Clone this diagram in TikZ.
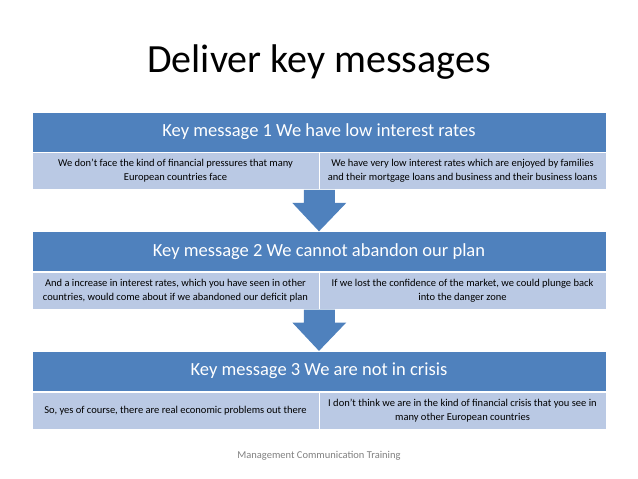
\documentclass[tikz,border=0pt]{standalone}
\usepackage{fontspec}
\setmainfont{Carlito}
\usepackage{tikz}
\usetikzlibrary{positioning}
\definecolor{keyblue}{RGB}{79,129,189}
\definecolor{keylight}{RGB}{186,201,228}
\definecolor{footgray}{RGB}{128,128,128}
\tikzset{
  keyhead/.style={fill=keyblue, draw=white, line width=0.6pt, text=white, minimum width=574pt, minimum height=40pt, inner sep=0pt, font=\fontsize{18.5}{22}\selectfont},
  keycell/.style={fill=keylight, draw=white, line width=0.6pt, text=black, minimum width=287pt, minimum height=37pt, inner sep=0pt, align=center, font=\fontsize{10.5}{14}\selectfont},
  keyarrow/.style={fill=keyblue}
}

\begin{document}
\begin{tikzpicture}[x=1pt, y=-1pt]
        
        \useasboundingbox (0,0) rectangle (638,479);
        
        \node[font=\fontsize{40}{48}\selectfont, anchor=base] (title) at (319,72) {Deliver key messages};
        
        \node[keyhead] (head1) at (319,132) {Key message 1 We have low interest rates};
        \node[keycell, anchor=north west] (left1) at (head1.south west) {We don’t face the kind of financial pressures that many\\European countries face};
        \node[keycell, anchor=north east] (right1) at (head1.south east) {We have very low interest rates which are enjoyed by families\\and their mortgage loans and business and their business loans};
        
        \node[keyhead, below=42pt of head1.south, anchor=north, yshift=-37pt] (head2) {Key message 2 We cannot abandon our plan};
        \node[keycell, anchor=north west] (left2) at (head2.south west) {And a increase in interest rates, which you have seen in other\\countries, would come about if we abandoned our deficit plan};
        \node[keycell, anchor=north east] (right2) at (head2.south east) {If we lost the confidence of the market, we could plunge back\\into the danger zone};
        
        \node[keyhead, below=42pt of head2.south, anchor=north, yshift=-37pt] (head3) {Key message 3 We are not in crisis};
        \node[keycell, anchor=north west] (left3) at (head3.south west) {So, yes of course, there are real economic problems out there};
        \node[keycell, anchor=north east] (right3) at (head3.south east) {I don’t think we are in the kind of financial crisis that you see in\\many other European countries};
        
        \fill[keyarrow] ([xshift=-15.5pt]left1.south east) -- ([xshift=-15.5pt, yshift=-13pt]left1.south east) -- ([xshift=-27pt, yshift=-13pt]left1.south east) -- (head2.north) -- ([xshift=27pt, yshift=-13pt]left1.south east) -- ([xshift=15.5pt, yshift=-13pt]left1.south east) -- ([xshift=15.5pt]left1.south east) -- cycle;
        \fill[keyarrow] ([xshift=-15.5pt]left2.south east) -- ([xshift=-15.5pt, yshift=-13pt]left2.south east) -- ([xshift=-27pt, yshift=-13pt]left2.south east) -- (head3.north) -- ([xshift=27pt, yshift=-13pt]left2.south east) -- ([xshift=15.5pt, yshift=-13pt]left2.south east) -- ([xshift=15.5pt]left2.south east) -- cycle;
        
        \node[text=footgray, font=\fontsize{10.5}{12}\selectfont] (foot) at (319,456) {Management Communication Training};
    
        \end{tikzpicture}
\end{document}
